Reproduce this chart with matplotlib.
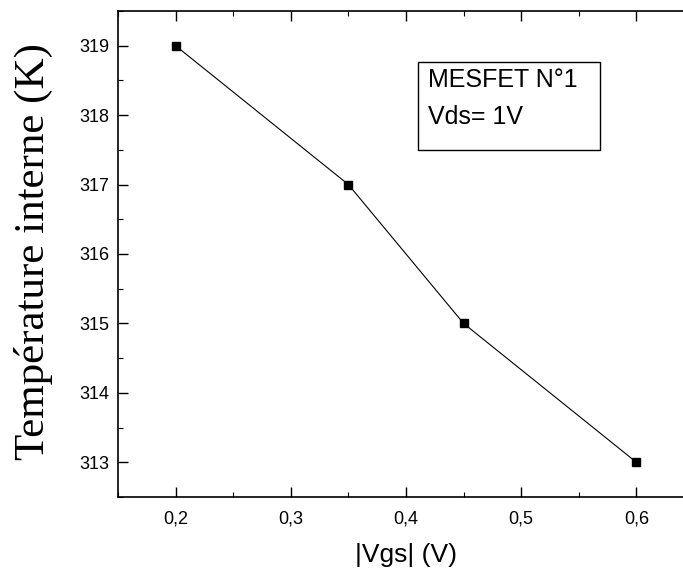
import matplotlib
matplotlib.use('Agg')
import matplotlib.pyplot as plt
from matplotlib.patches import Rectangle
from matplotlib.ticker import MultipleLocator, FuncFormatter

# data
vgs = [0.2, 0.35, 0.45, 0.6]
temp = [319, 317, 315, 313]

plt.rcParams['font.family'] = ['Liberation Sans', 'DejaVu Sans']

fig = plt.figure(figsize=(6.83, 5.77), dpi=100)
W, H = 683, 577
# axes box in pixels: left 118, right 694 (past the edge), top 11, bottom 497
ax = fig.add_axes([118 / W, (H - 497) / H, (694 - 118) / W, (497 - 11) / H])

ax.plot(vgs, temp, color='k', linewidth=0.8, marker='s', markersize=6,
        markerfacecolor='k', markeredgecolor='k')

ax.set_xlim(0.15, 0.65)
ax.set_ylim(312.5, 319.5)

ax.xaxis.set_major_locator(MultipleLocator(0.1))
ax.xaxis.set_minor_locator(MultipleLocator(0.05))
ax.yaxis.set_major_locator(MultipleLocator(1))
ax.yaxis.set_minor_locator(MultipleLocator(0.5))
ax.xaxis.set_major_formatter(FuncFormatter(lambda v, p: ('%.1f' % v).replace('.', ',')))
ax.yaxis.set_major_formatter(FuncFormatter(lambda v, p: '%d' % round(v)))

ax.tick_params(which='major', direction='in', length=7, width=1,
               labelsize=13, top=True, right=False)
ax.tick_params(which='minor', direction='in', length=3.5, width=0.8,
               top=True, right=False)
ax.tick_params(axis='x', which='major', labeltop=False, pad=10)
ax.tick_params(axis='y', which='major', pad=6)

for s in ['left', 'bottom', 'top']:
    ax.spines[s].set_linewidth(1.2)
ax.spines['right'].set_visible(False)

ax.set_xlabel('|Vgs| (V)', fontsize=19, labelpad=11)
ax.set_ylabel('Température interne (K)', fontsize=31,
              family=['Liberation Serif', 'DejaVu Serif'])
ax.yaxis.set_label_coords(-0.112, 0.505)

# annotation box
ax.add_patch(Rectangle((0.521, 0.714), 0.316, 0.181, transform=ax.transAxes,
                       fill=False, edgecolor='k', linewidth=1))
ax.text(0.538, 0.858, 'MESFET N°1', transform=ax.transAxes, fontsize=18,
        va='center', ha='left')
ax.text(0.538, 0.782, 'Vds= 1V', transform=ax.transAxes, fontsize=18,
        va='center', ha='left')

fig.savefig('out.png', dpi=100)
